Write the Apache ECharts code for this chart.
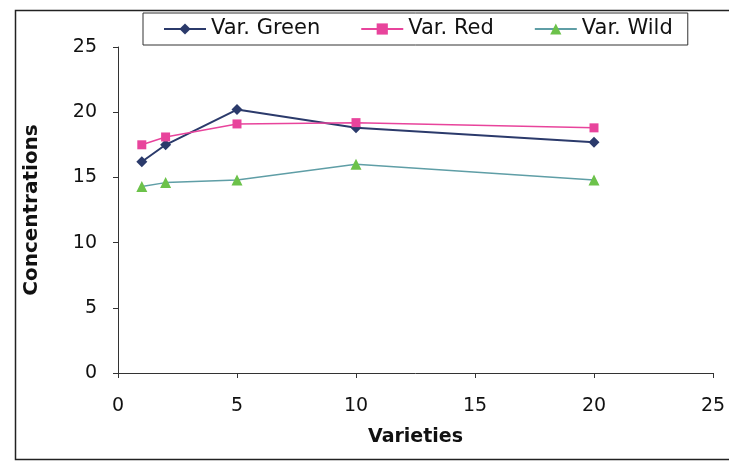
<!DOCTYPE html>
<html>
<head>
<meta charset="utf-8">
<script src="https://cdn.jsdelivr.net/npm/echarts@6/dist/echarts.min.js"></script>
<style>
html,body{margin:0;padding:0;background:#fff;overflow:hidden;}
#chart{width:729px;height:461px;}
</style>
</head>
<body>
<div id="chart"></div>
<script>
// Data
var xValues = [1, 2, 5, 10, 20];
var seriesNames = ['Var. Green', 'Var. Red', 'Var. Wild'];
var greenValues = [16.2, 17.5, 20.2, 18.8, 17.7];
var redValues = [17.5, 18.1, 19.1, 19.2, 18.8];
var wildValues = [14.3, 14.6, 14.8, 16.0, 14.8];
var xTicks = [0, 5, 10, 15, 20, 25];
var yTicks = [0, 5, 10, 15, 20, 25];
var xTitle = 'Varieties';
var yTitle = 'Concentrations';

function pairs(vals) {
  return xValues.map(function (x, i) { return [x, vals[i]]; });
}

var FONT = 'DejaVu Sans';
var chart = echarts.init(document.getElementById('chart'), null, {renderer: 'canvas'});
chart.setOption({
  animation: false,
  backgroundColor: '#ffffff',
  textStyle: {fontFamily: FONT},
  graphic: [{
    type: 'rect',
    left: 13, top: 8,
    shape: {width: 900, height: 449},
    style: {fill: 'none', stroke: '#222', lineWidth: 1.5},
    z: -10, silent: true
  }],
  legend: {
    data: seriesNames,
    left: 143, top: 13,
    orient: 'horizontal',
    padding: [4, 15, 4, 20],
    itemGap: 40,
    itemWidth: 42,
    itemHeight: 14,
    borderColor: '#333',
    borderWidth: 1,
    borderRadius: 0,
    backgroundColor: '#fff',
    textStyle: {fontFamily: FONT, fontSize: 21, color: '#111', lineHeight: 24}
  },
  grid: {left: 118, right: 16, top: 47, bottom: 88, containLabel: false},
  xAxis: {
    type: 'value',
    min: xTicks[0], max: xTicks[xTicks.length - 1], interval: 5,
    name: xTitle,
    nameLocation: 'middle',
    nameGap: 55,
    nameTextStyle: {fontFamily: FONT, fontSize: 19, fontWeight: 'bold', color: '#111'},
    axisLine: {onZero: false, lineStyle: {color: '#333', width: 1}},
    axisTick: {show: true, inside: false, length: 5, lineStyle: {color: '#333'}},
    axisLabel: {fontFamily: FONT, fontSize: 19, color: '#111', margin: 24},
    splitLine: {show: false}
  },
  yAxis: {
    type: 'value',
    min: yTicks[0], max: yTicks[yTicks.length - 1], interval: 5,
    name: yTitle,
    nameLocation: 'middle',
    nameGap: 76,
    nameTextStyle: {fontFamily: FONT, fontSize: 20, fontWeight: 'bold', color: '#111'},
    axisLine: {show: true, lineStyle: {color: '#333', width: 1}},
    axisTick: {show: true, inside: false, length: 5, lineStyle: {color: '#333'}},
    axisLabel: {fontFamily: FONT, fontSize: 19, color: '#111', margin: 21},
    splitLine: {show: false}
  },
  series: [{
    name: seriesNames[0],
    type: 'line',
    data: pairs(greenValues),
    symbol: 'diamond',
    symbolSize: 11,
    lineStyle: {color: '#2b3a6b', width: 2},
    itemStyle: {color: '#2b3a6b'}
  }, {
    name: seriesNames[1],
    type: 'line',
    data: pairs(redValues),
    symbol: 'rect',
    symbolSize: 9,
    lineStyle: {color: '#e8449c', width: 1.5},
    itemStyle: {color: '#e8449c'}
  }, {
    name: seriesNames[2],
    type: 'line',
    data: pairs(wildValues),
    symbol: 'triangle',
    symbolSize: 11,
    lineStyle: {color: '#5f9ea6', width: 1.5},
    itemStyle: {color: '#6cc24a'}
  }]
});
</script>
</body>
</html>
